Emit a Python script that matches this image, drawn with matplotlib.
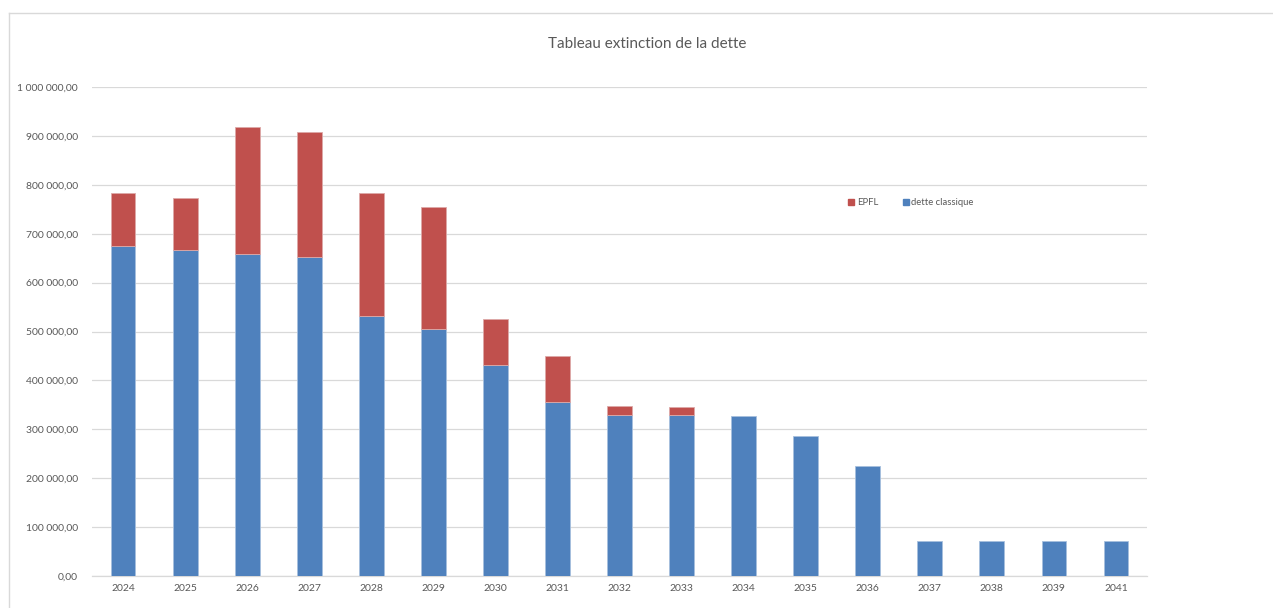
import matplotlib
matplotlib.use("Agg")
import matplotlib.pyplot as plt
from matplotlib.ticker import FuncFormatter, MultipleLocator
from matplotlib.lines import Line2D

years = ["2024", "2025", "2026", "2027", "2028", "2029", "2030", "2031", "2032",
         "2033", "2034", "2035", "2036", "2037", "2038", "2039", "2041"]
dette_classique = [674200, 666000, 658500, 651700, 531000, 504500, 431500, 356500, 328600,
                   328600, 327200, 286300, 225000, 71600, 71600, 71600, 71600]
total = [782600, 773000, 917600, 907300, 783900, 754600, 525600, 449900, 347000,
         345600, 327200, 286300, 225000, 71600, 71600, 71600, 71600]
epfl = [t - d for t, d in zip(total, dette_classique)]

blue = "#4F81BD"
red = "#C0504D"
grey = "#595959"

plt.rcParams['font.family'] = ['Lato', 'DejaVu Sans']

fig = plt.figure(figsize=(12.73, 6.08), dpi=100)
ax = fig.add_axes([92 / 1273, 1 - 576 / 608, (1147 - 92) / 1273, (576 - 87) / 608])

x = range(len(years))
ax.bar(x, dette_classique, width=0.40, color=blue, edgecolor="#A7C0DE", linewidth=0.6,
       label="dette classique", zorder=3)
ax.bar(x, epfl, width=0.40, bottom=dette_classique, color=red, edgecolor="#DDA9A8",
       linewidth=[0.6 if v > 0 else 0 for v in epfl], label="EPFL", zorder=3)

ax.set_xlim(-0.5, len(years) - 0.5)
ax.set_ylim(0, 1000000)
ax.yaxis.set_major_locator(MultipleLocator(100000))


def fr_fmt(v, pos):
    s = "{:,.2f}".format(v)
    return s.replace(",", " ").replace(".", ",")


ax.yaxis.set_major_formatter(FuncFormatter(fr_fmt))
ax.set_xticks(list(x))
ax.set_xticklabels(years)
ax.tick_params(axis="both", length=0, colors=grey, labelsize=7.5)
ax.tick_params(axis="x", pad=6)
ax.tick_params(axis="y", pad=10)

ax.grid(axis="y", color="#D9D9D9", linewidth=0.9, zorder=0)
for s in ["top", "right", "left"]:
    ax.spines[s].set_visible(False)
ax.spines["bottom"].set_color("#D9D9D9")
ax.spines["bottom"].set_linewidth(0.9)

fig.text(647 / 1273, 1 - 44 / 608, "Tableau extinction de la dette", ha="center",
         va="center", color=grey, fontsize=11)

handles = [Line2D([], [], marker="s", linestyle="", color=red, markersize=4.5),
           Line2D([], [], marker="s", linestyle="", color=blue, markersize=4.5)]
fig.legend(handles, ["EPFL", "dette classique"], loc="center left",
           bbox_to_anchor=(838 / 1273, 1 - 203 / 608), ncol=2, frameon=False,
           fontsize=6.8, labelcolor=grey, handletextpad=0.1, columnspacing=2.4,
           handlelength=1.0)

# chart area border
fig.add_artist(Line2D([9 / 1273, 1], [1 - 13 / 608, 1 - 13 / 608], color="#D9D9D9",
                      linewidth=1, transform=fig.transFigure))
fig.add_artist(Line2D([9 / 1273, 9 / 1273], [0, 1 - 13 / 608], color="#D9D9D9",
                      linewidth=1, transform=fig.transFigure))

fig.savefig("out.png", dpi=100)
